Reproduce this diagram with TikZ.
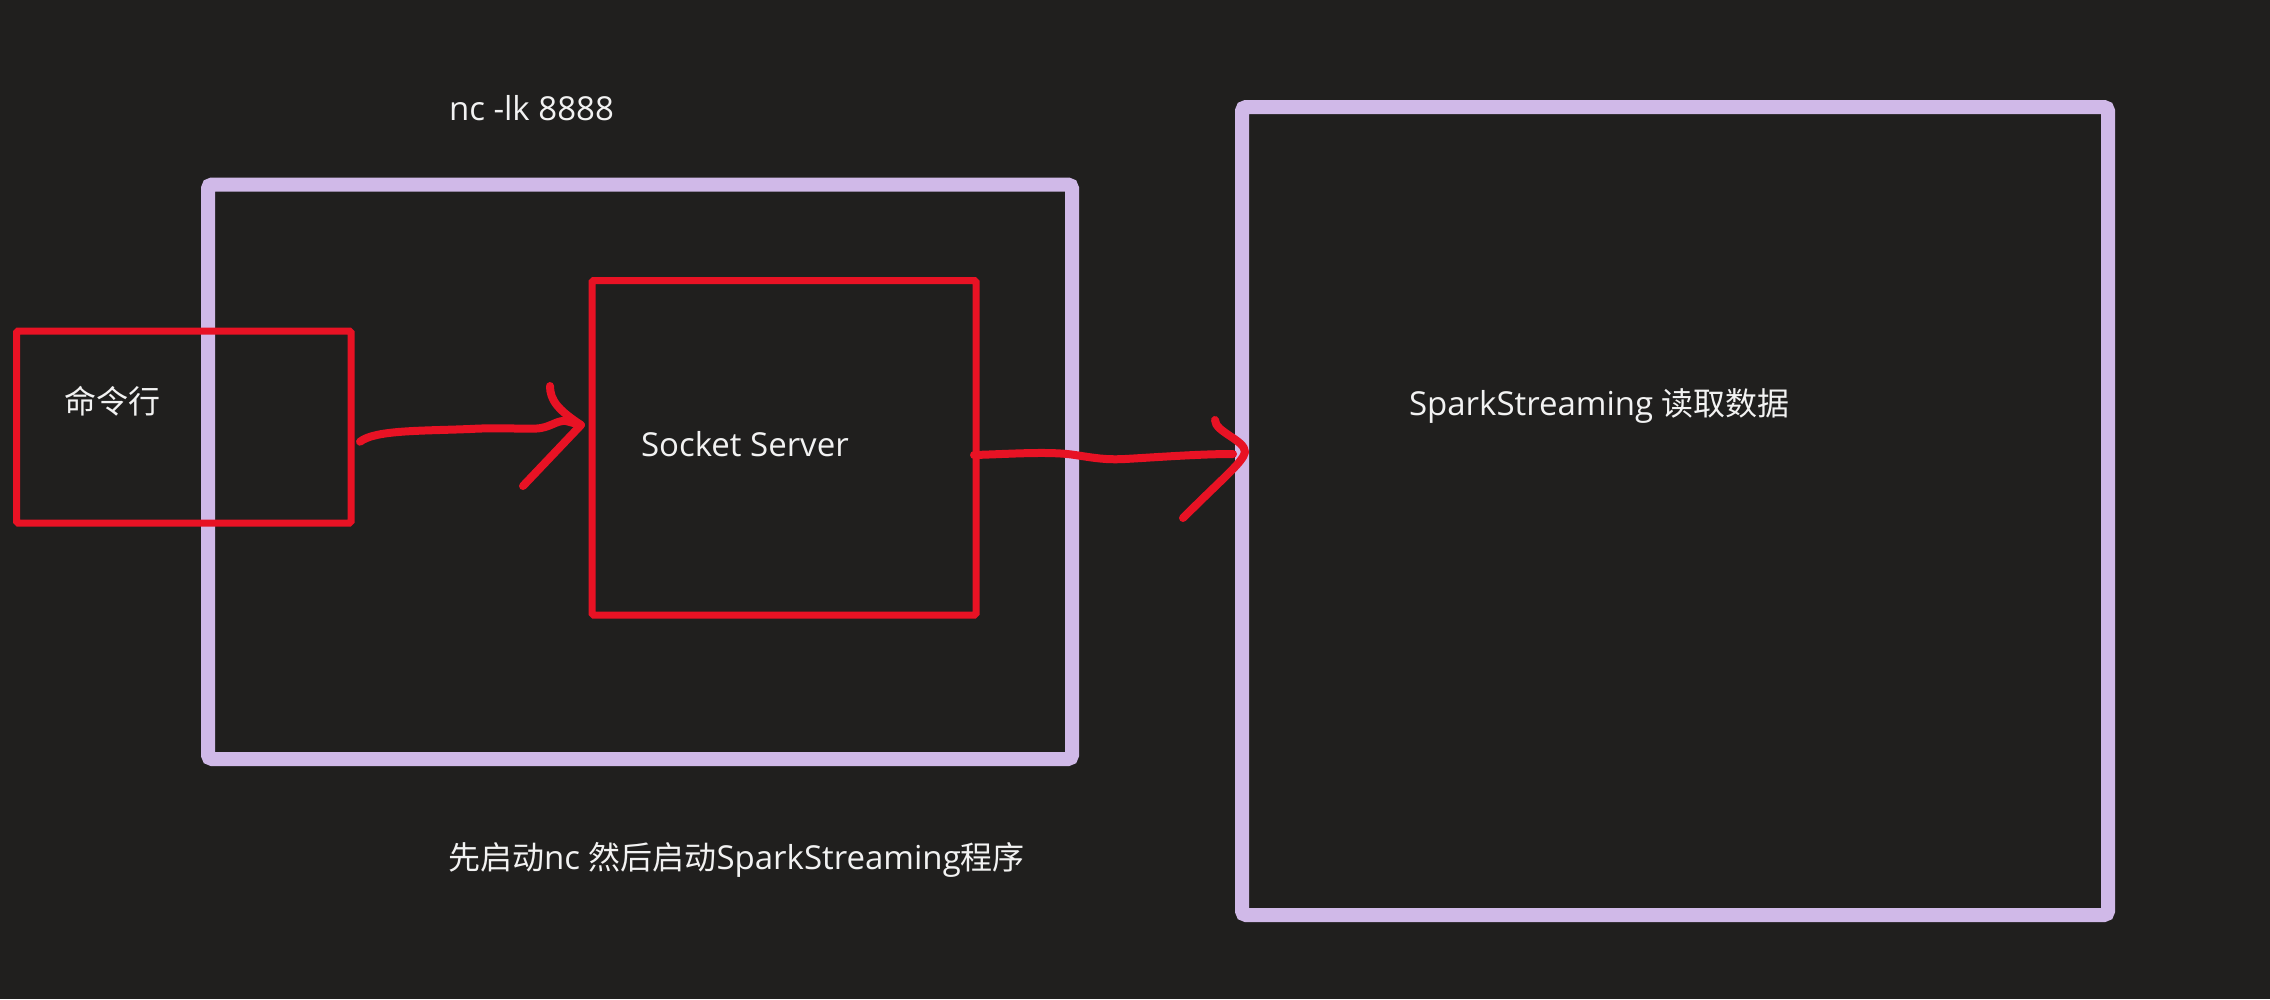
\documentclass[tikz,border=0pt]{standalone}
\usepackage{fontspec}
\setmainfont{Open Sans}
\newfontfamily\cjk{Noto Sans CJK SC}
\definecolor{bgc}{HTML}{201F1E}
\definecolor{lav}{HTML}{D0B9E8}
\definecolor{pred}{HTML}{E81224}
\definecolor{txt}{HTML}{F2F2F2}
\begin{document}
\begin{tikzpicture}[x=1pt,y=-1pt,
  lavbox/.style={draw=lav,line width=14pt,rounded corners=4pt,inner sep=0pt,outer sep=0pt},
  redbox/.style={draw=pred,line width=7pt,rounded corners=1.5pt,inner sep=0pt,outer sep=0pt},
  pen/.style={draw=pred,line width=8pt,line cap=round,line join=round},
  lbl/.style={text=txt,inner sep=0pt,outer sep=0pt,font=\fontsize{33}{40}\selectfont}]
\fill[bgc] (0,0) rectangle (2270,999);
\useasboundingbox (0,0) rectangle (2270,999);
% boxes
\node[lavbox,minimum width=864pt,minimum height=574.5pt] (host) at (640,471.75) {};
\node[lavbox,minimum width=866pt,minimum height=808pt] (spark) at (1675,511) {};
\node[redbox,minimum width=334.4pt,minimum height=192pt] (cmd) at (183.8,427) {};
\node[redbox,minimum width=384pt,minimum height=334.5pt] (sock) at (784,447.75) {};
% labels
\node[lbl,anchor=base west] (nclbl) at (449,120) {nc -lk 8888};
\node[lbl,anchor=base west] (cmdlbl) at (64,413) {\cjk\fontsize{32}{40}\selectfont 命令行};
\node[lbl,anchor=base west] (socklbl) at (641,456) {Socket Server};
\node[lbl,anchor=base west] (sparklbl) at (1409,415) {SparkStreaming {\cjk\fontsize{32}{40}\selectfont 读取数据}};
\node[lbl,anchor=base west] (note) at (448,869) {{\cjk\fontsize{32}{40}\selectfont 先启动}nc {\cjk\fontsize{32}{40}\selectfont 然后启动}SparkStreaming{\cjk\fontsize{32}{40}\selectfont 程序}};
% arrow 1: command line -> socket server
\coordinate (a1s) at (360,441.7);
\coordinate (a1t) at (581,425);
\draw[pen] (a1s) .. controls (375,430) and (420,431) .. (470,429)
  .. controls (505,427) and (530,430) .. (541,428)
  .. controls (552,426) and (558,420) .. (566,421) -- (a1t);
\draw[pen] (550,386) .. controls (550,400) and (558,410) .. (a1t) -- (523,486);
% arrow 2: socket server -> spark streaming
\coordinate (a2s) at (974,455);
\coordinate (a2t) at (1245,452);
\draw[pen] (a2s) .. controls (1010,454) and (1050,451) .. (1075,455)
  .. controls (1095,458) and (1105,460) .. (1125,459)
  .. controls (1160,457) and (1200,454) .. (1233,454);
\draw[pen] (1215,420) .. controls (1215,432) and (1245,440) .. (a2t)
  .. controls (1243,462) and (1225,476) .. (1183,518);
\end{tikzpicture}
\end{document}
